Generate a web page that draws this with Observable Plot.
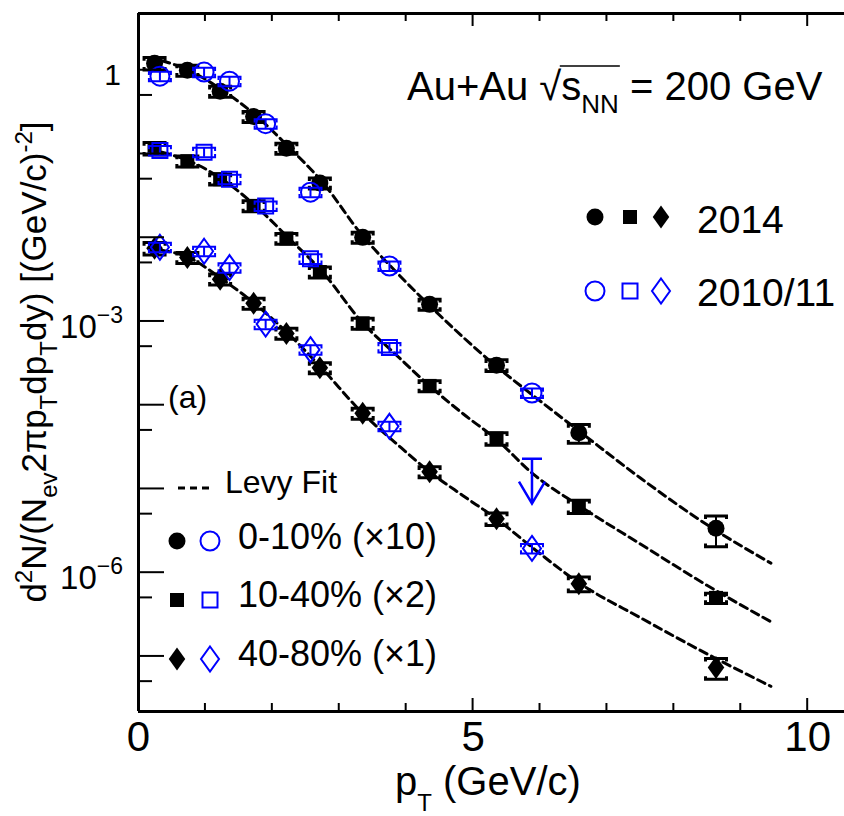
<!DOCTYPE html>
<html>
<head>
<meta charset="utf-8">
<script src="https://cdn.jsdelivr.net/npm/d3@7"></script>
<script src="https://cdn.jsdelivr.net/npm/@observablehq/plot@0.6"></script>
<style>
html, body { margin: 0; padding: 0; background: #fff; overflow: hidden; }
#chart svg { display: block; }
</style>
</head>
<body>
<div id="chart"></div>
<script>
// ---------------- data ----------------
const xTicksMajor = [0, 5, 10];
const xTicksMinor = [1, 2, 3, 4, 6, 7, 8, 9];
const yTicksMajor = [1, 1e-1, 1e-2, 1e-3, 1e-4, 1e-5, 1e-6, 1e-7];
const yTicksMinor = [5e-1, 5e-2, 5e-3, 5e-4, 5e-5, 5e-6, 5e-7, 5e-8];
const yTickValues = [1, 1e-3, 1e-6];
const yTickBases = ["1", "10", "10"];
const yTickExps = ["", "\u22123", "\u22126"];

const centralityLabels = ["0-10% (\u00d710)", "10-40% (\u00d72)", "40-80% (\u00d71)"];
const yearLabels = ["2014", "2010/11"];

// 2014 data (filled markers)
const pt2014 = [0.24, 0.73, 1.22, 1.72, 2.21, 2.71, 3.35, 4.35, 5.35, 6.58, 8.63];
const y2014_0_10 = [1.21, 1.0, 0.56, 0.28, 0.117, 0.045, 0.0101, 1.6e-3, 3.0e-4, 4.7e-5, 3.4e-6];
const y2014_10_40 = [0.117, 0.082, 0.050, 0.024, 9.8e-3, 3.9e-3, 9.5e-4, 1.7e-4, 4.0e-5, 6.2e-6, 5.0e-7];
const y2014_40_80 = [7.5e-3, 5.8e-3, 3.2e-3, 1.65e-3, 7.2e-4, 2.8e-4, 8.0e-5, 1.6e-5, 4.4e-6, 7.4e-7, 7.4e-8];
const err2014_0_10 = [0.17, 0.15, 0.15, 0.15, 0.15, 0.15, 0.15, 0.15, 0.16, 0.25, 0.40];
const err2014_10_40 = [0.17, 0.15, 0.15, 0.15, 0.15, 0.15, 0.15, 0.15, 0.17, 0.18, 0.14];
const err2014_40_80 = [0.17, 0.15, 0.15, 0.15, 0.15, 0.15, 0.15, 0.15, 0.17, 0.20, 0.28];

// 2010/11 data (open markers)
const pt2010 = [0.32, 0.98, 1.36, 1.90, 2.57, 3.75, 5.88];
const y2010_0_10 = [0.85, 0.95, 0.74, 0.23, 0.035, 4.6e-3, 1.4e-4];
const y2010_10_40 = [0.11, 0.105, 0.050, 0.024, 5.6e-3, 4.9e-4, null];
const y2010_40_80 = [7.7e-3, 6.9e-3, 4.4e-3, 9.3e-4, 4.6e-4, 5.6e-5, 1.95e-6];
const err2010 = [0.13, 0.13, 0.13, 0.13, 0.13, 0.13, 0.13];
const ptLimit2010_10_40 = [5.88];
const yLimit2010_10_40 = [2.3e-5];

// Levy fits (dashed)
const ptFit = [0.35, 0.75, 1.25, 1.75, 2.25, 2.75, 3.35, 3.85, 4.35, 4.85, 5.35, 5.9, 6.6, 7.5, 8.6, 9.45];
const fit_0_10 = [1.3, 1.0, 0.58, 0.29, 0.12, 0.046, 0.0105, 3.9e-3, 1.55e-3, 6.5e-4, 2.9e-4, 1.3e-4, 4.8e-5, 1.35e-5, 3.3e-6, 1.3e-6];
const fit_10_40 = [0.105, 0.083, 0.050, 0.024, 9.8e-3, 3.9e-3, 9.6e-4, 4.0e-4, 1.7e-4, 7.9e-5, 3.9e-5, 1.5e-5, 6.2e-6, 2.2e-6, 6.3e-7, 2.6e-7];
const fit_40_80 = [7.1e-3, 5.8e-3, 3.2e-3, 1.6e-3, 7.0e-4, 2.7e-4, 8.0e-5, 3.5e-5, 1.6e-5, 8.3e-6, 4.4e-6, 1.95e-6, 7.4e-7, 2.9e-7, 9.7e-8, 4.4e-8];

const xDomain = [0, 10.55];
const yDomain = [2.2e-8, 4.76];

// ---------------- helpers ----------------
const FONT = '"Liberation Sans", Arial, Helvetica, sans-serif';
const BLUE = "#0000ff";

const rows = (xs, ys, es) => xs.map((x, i) => ({x, y: ys[i], e: es ? es[i] : 0})).filter(d => d.y != null);
const fitRows = [fit_0_10, fit_10_40, fit_40_80].flatMap((ys, k) => ptFit.map((x, i) => ({x, y: ys[i], s: centralityLabels[k]})));

const symSquare = {draw(c, size) { const r = Math.sqrt(size / Math.PI); c.moveTo(-r, -r); c.lineTo(r, -r); c.lineTo(r, r); c.lineTo(-r, r); c.closePath(); }};
const symDiamond = {draw(c, size) { const r = Math.sqrt(size / Math.PI), w = 0.72 * r; c.moveTo(0, -r); c.lineTo(w, 0); c.lineTo(0, r); c.lineTo(-w, 0); c.closePath(); }};
const symCircle = d3.symbolCircle;
const capTop = {draw(c, size) { const r = Math.sqrt(size / Math.PI), h = 0.3 * r; c.moveTo(-r, h); c.lineTo(-r, 0); c.lineTo(r, 0); c.lineTo(r, h); }};
const capBottom = {draw(c, size) { const r = Math.sqrt(size / Math.PI), h = 0.3 * r; c.moveTo(-r, -h); c.lineTo(-r, 0); c.lineTo(r, 0); c.lineTo(r, -h); }};
const arrowDown = {draw(c, size) {
  const r = Math.sqrt(size / Math.PI), L = 4.5 * r;
  c.moveTo(-r, 0); c.lineTo(r, 0); c.moveTo(0, 0); c.lineTo(0, L);
  c.moveTo(-1.3 * r, L - 2.2 * r); c.lineTo(0, L); c.lineTo(1.3 * r, L - 2.2 * r);
}};
const symPath = (sym, r) => { const p = d3.path(); sym.draw(p, Math.PI * r * r); return p.toString(); };

function seriesMarks(data, sym, r, filled, capR, capW) {
  const color = filled ? "black" : BLUE;
  return [
    Plot.ruleX(data, {x: "x", y1: d => d.y * (1 - d.e), y2: d => d.y * (1 + d.e), stroke: color, strokeWidth: 2}),
    Plot.dot(data, {x: "x", y: d => d.y * (1 + d.e), symbol: capTop, r: capR, stroke: color, strokeWidth: capW, fill: "none"}),
    Plot.dot(data, {x: "x", y: d => d.y * (1 - d.e), symbol: capBottom, r: capR, stroke: color, strokeWidth: capW, fill: "none"}),
    filled
      ? Plot.dot(data, {x: "x", y: "y", symbol: sym, r, fill: "black", stroke: "none"})
      : Plot.dot(data, {x: "x", y: "y", symbol: sym, r, fill: "none", stroke: BLUE, strokeWidth: 2})
  ];
}

function addText(g, x, y, parts, size, opts = {}) {
  const t = g.append("text").attr("x", x).attr("y", y)
    .attr("font-size", size).attr("font-family", FONT)
    .attr("fill", opts.fill || "black").attr("style", "white-space:pre")
    .attr("text-anchor", opts.anchor || "start");
  if (opts.transform) t.attr("transform", opts.transform);
  let shift = 0;
  for (const p of parts) {
    const [s, kind, cls] = Array.isArray(p) ? p : [p, ""];
    const target = kind === "sub" ? (opts.sub ?? size * 0.4) : kind === "sup" ? -(opts.sup ?? size * 0.42) : 0;
    const ts = t.append("tspan").text(s);
    if (cls) ts.attr("class", cls);
    if (target !== shift) { ts.attr("dy", target - shift); shift = target; }
    if (kind === "sub" || kind === "sup") ts.attr("font-size", opts.small ?? size * 0.68);
  }
  return t;
}

// ---------------- custom marks (use Plot's scales) ----------------
function ticksMark(index, scales, values, dim) {
  const {x, y} = scales;
  const g = d3.create("svg:g").attr("stroke", "black").attr("stroke-width", 2).attr("fill", "none");
  const top = dim.marginTop, bot = dim.height - dim.marginBottom, left = dim.marginLeft;
  const add = (x1, y1, x2, y2) => g.append("line").attr("x1", x1).attr("y1", y1).attr("x2", x2).attr("y2", y2);
  xTicksMajor.forEach(t => { add(x(t), bot, x(t), bot - 13); add(x(t), top, x(t), top + 13); });
  xTicksMinor.forEach(t => { add(x(t), bot, x(t), bot - 8); add(x(t), top, x(t), top + 8); });
  yTicksMajor.forEach(t => add(left, y(t), left + 26, y(t)));
  yTicksMinor.forEach(t => add(left, y(t), left + 14, y(t)));
  return g.node();
}

function yLabelsMark(index, scales, values, dim) {
  const {y} = scales;
  const g = d3.create("svg:g");
  const right = dim.marginLeft - 15;
  yTickValues.forEach((v, i) => {
    if (yTickExps[i]) {
      addText(g, right, y(v) + 17, [yTickBases[i], [yTickExps[i], "sup"]], 33, {anchor: "end", sup: 15, small: 23});
    } else {
      addText(g, right - 2, y(v) + 15, [yTickBases[i]], 30, {anchor: "end"});
    }
  });
  return g.node();
}

function annotationsMark(index, scales, values, dim) {
  const g = d3.create("svg:g");
  // axis titles
  addText(g, 0, 0, ["d", ["2", "sup"], "N/(N", ["ev", "sub"], "2\u03c0p", ["T", "sub"], "dp", ["T", "sub"], "dy) [(GeV/c)", ["-2", "sup"], "]"], 35,
    {anchor: "middle", transform: "translate(46,362) rotate(-90)", sub: 11, sup: 14, small: 24});
  addText(g, 395, 795, ["p", ["T", "sub"], " (GeV/c)"], 40, {sub: 16, small: 24});
  // title
  addText(g, 407, 100, ["Au+Au ", ["\u221a", "", "rad"], "s", ["NN", "sub", "nn"], " = 200 GeV"], 40, {sub: 13, small: 26});
  addText(g, 168, 408, ["(a)"], 32);
  // year legend
  const yr = [[217, 233, true], [291, 306, false]];
  yr.forEach(([cy, by, filled], i) => {
    const syms = [[595, symCircle, filled ? 8.5 : 9.5], [630, symSquare, filled ? 7 : 7.5], [661, symDiamond, filled ? 11.5 : 12.5]];
    syms.forEach(([cx, s, r]) => {
      g.append("path").attr("d", symPath(s, r)).attr("transform", `translate(${cx},${cy})`)
        .attr("fill", filled ? "black" : "none").attr("stroke", filled ? "none" : BLUE).attr("stroke-width", 2);
    });
    addText(g, 697, by, [yearLabels[i]], 39);
  });
  // fit legend
  g.append("line").attr("x1", 178).attr("x2", 210).attr("y1", 488).attr("y2", 488)
    .attr("stroke", "black").attr("stroke-width", 3).attr("stroke-dasharray", "7,5");
  addText(g, 225, 493, ["Levy Fit"], 32);
  // centrality legend
  const cen = [[541, 549, symCircle, 8.5, 9.5], [600, 607, symSquare, 7, 7.5], [659, 666, symDiamond, 11.5, 12.5]];
  cen.forEach(([cy, by, s, rf, ro], i) => {
    g.append("path").attr("d", symPath(s, rf)).attr("transform", `translate(177,${cy})`).attr("fill", "black");
    g.append("path").attr("d", symPath(s, ro)).attr("transform", `translate(210,${cy})`)
      .attr("fill", "none").attr("stroke", BLUE).attr("stroke-width", 2);
    addText(g, 238, by, [centralityLabels[i]], 36);
  });
  return g.node();
}

// ---------------- plot ----------------
const d0 = rows(pt2014, y2014_0_10, err2014_0_10);
const d1 = rows(pt2014, y2014_10_40, err2014_10_40);
const d2 = rows(pt2014, y2014_40_80, err2014_40_80);
const o0 = rows(pt2010, y2010_0_10, err2010);
const o1 = rows(pt2010, y2010_10_40, err2010);
const o2 = rows(pt2010, y2010_40_80, err2010);
const lim = rows(ptLimit2010_10_40, yLimit2010_10_40);

const chart = Plot.plot({
  width: 844,
  height: 816,
  marginTop: 13,
  marginRight: 0,
  marginBottom: 105,
  marginLeft: 138,
  style: {fontFamily: FONT, background: "white", color: "black", overflow: "visible"},
  x: {domain: xDomain, axis: null},
  y: {type: "log", domain: yDomain, axis: null},
  marks: [
    Plot.line(fitRows, {x: "x", y: "y", z: "s", stroke: "black", strokeWidth: 3, strokeDasharray: "8,5", curve: "monotone-x"}),
    ...seriesMarks(d0, symCircle, 8.5, true, 10.5, 3),
    ...seriesMarks(d1, symSquare, 7, true, 10.5, 3),
    ...seriesMarks(d2, symDiamond, 11.5, true, 10.5, 3),
    ...seriesMarks(o0, symCircle, 9.5, false, 11, 2),
    ...seriesMarks(o1, symSquare, 7.5, false, 11, 2),
    ...seriesMarks(o2, symDiamond, 12.5, false, 11, 2),
    Plot.dot(lim, {x: "x", y: "y", symbol: arrowDown, r: 10, stroke: BLUE, strokeWidth: 2.5, fill: "none"}),
    Plot.ruleX([xDomain[0]], {stroke: "black", strokeWidth: 3}),
    Plot.ruleY([yDomain[0]], {stroke: "black", strokeWidth: 3}),
    Plot.ruleY([yDomain[1]], {stroke: "black", strokeWidth: 3}),
    ticksMark,
    Plot.axisX({ticks: xTicksMajor, tickSize: 0, tickPadding: 10, fontSize: 42, fontFamily: FONT, label: null, tickFormat: d => String(d)}),
    yLabelsMark,
    annotationsMark
  ]
});
document.getElementById("chart").append(chart);

// overline of the square root, measured from the rendered glyphs
const rad = chart.querySelector(".rad");
const nn = chart.querySelector(".nn");
if (rad && nn && rad.getEndPositionOfChar) {
  const x1 = rad.getEndPositionOfChar(0).x - 1.5;
  const x2 = nn.getEndPositionOfChar(nn.textContent.length - 1).x + 1;
  d3.select(chart).append("line").attr("x1", x1).attr("x2", x2).attr("y1", 66).attr("y2", 66)
    .attr("stroke", "black").attr("stroke-width", 1.6);
}
</script>
</body>
</html>
